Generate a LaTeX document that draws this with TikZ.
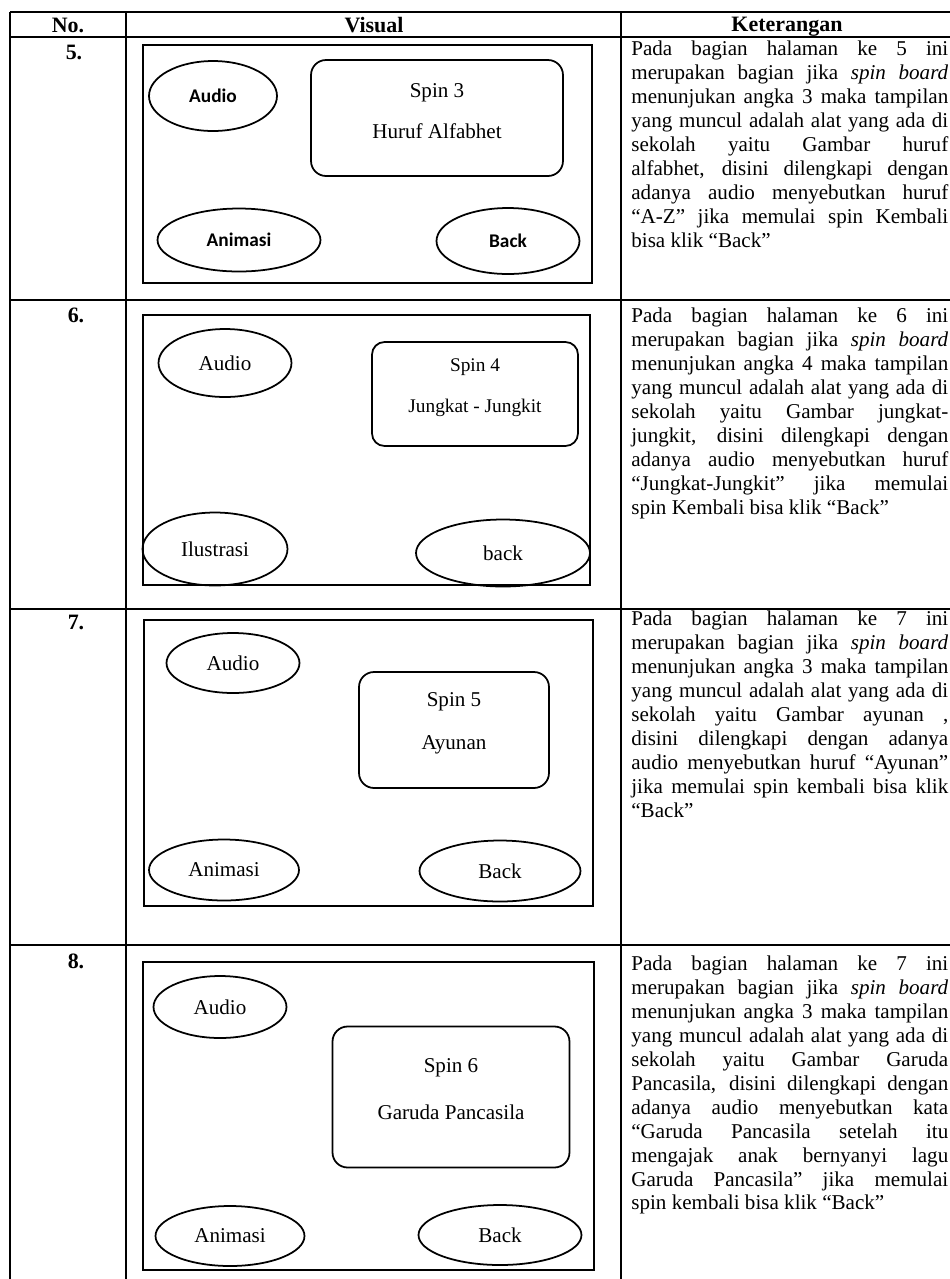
\documentclass[tikz,border=0pt]{standalone}
\usepackage{fontspec}
\setmainfont{Liberation Serif}
\newfontfamily\calfont{Carlito}
\usetikzlibrary{shapes.geometric}
\tikzset{
    btn/.style = {draw, ellipse, line width=1pt, inner sep=0,
        font=\fontsize{12}{14}\selectfont},
    sbtn/.style = {btn, font=\calfont\bfseries\fontsize{11}{14}\selectfont},
    card/.style = {draw, rectangle, rounded corners=0.3cm, line width=1pt},
    screen/.style = {draw, rectangle, line width=1pt, inner sep=0},
    rule/.style = {line width=1pt},
    lbl/.style = {inner sep=0, font=\fontsize{12}{14}\selectfont},
    head/.style = {anchor=base, inner sep=0, font=\bfseries\fontsize{12.5}{14}\selectfont},
    note/.style = {anchor=north west, inner sep=0, text width=6.34cm,
        align=justify, font=\fontsize{12}{13.6}\selectfont}
}
\begin{document}
\begin{tikzpicture}[x=0.02cm,y=-0.02cm]
    \useasboundingbox (0,0) rectangle (950,1279);
    \foreach \y in {12,37,300,609,945} \draw[rule] (10,\y) -- (950,\y);
    \foreach \x in {10,126,621} \draw[rule] (\x,12) -- (\x,1279);
    \node[head] (hno) at (68,32) {No.};
    \node[head] (hvis) at (374,32) {Visual};
    \node[head] (hket) at (787,31) {Keterangan};
    \node[head] (no5) at (74,59) {5.};
    \node[head] (no6) at (76,322) {6.};
    \node[head] (no7) at (76,629) {7.};
    \node[head] (no8) at (76,968) {8.};

    \node[screen,minimum width=8.98cm,minimum height=4.76cm] (frame5) at (367.5,164) {};
    \node[sbtn,minimum width=2.56cm,minimum height=1.4cm] (audio5) at (213,96) {Audio};
    \node[card,minimum width=5.04cm,minimum height=2.32cm] (box5) at (437,118) {};
    \node[lbl] (spin5) at (437,93) {Spin 3};
    \node[lbl] (name5) at (437,131) {Huruf Alfabhet};
    \node[sbtn,minimum width=3.26cm,minimum height=1.26cm] (anim5) at (239,240) {Animasi};
    \node[sbtn,minimum width=2.86cm,minimum height=1.32cm] (back5) at (508,241) {Back};

    \node[screen,minimum width=8.94cm,minimum height=5.4cm] (frame6) at (366.5,450) {};
    \node[btn,minimum width=2.66cm,minimum height=1.36cm] (audio6) at (225,363) {Audio};
    \node[card,rounded corners=0.25cm,minimum width=4.12cm,minimum height=2.08cm] (box6) at (475,394) {};
    \node[lbl,font=\fontsize{11}{13}\selectfont] (spin6) at (475,367) {Spin 4};
    \node[lbl,font=\fontsize{11}{13}\selectfont] (name6) at (475,408) {Jungkat - Jungkit};
    \node[btn,minimum width=2.9cm,minimum height=1.46cm] (ilus6) at (215,549) {Ilustrasi};
    \node[btn,minimum width=3.48cm,minimum height=1.34cm] (back6) at (503,553) {back};

    \node[screen,minimum width=8.98cm,minimum height=5.72cm] (frame7) at (368.5,763) {};
    \node[btn,minimum width=2.66cm,minimum height=1.2cm] (audio7) at (233,663) {Audio};
    \node[card,minimum width=3.8cm,minimum height=2.32cm] (box7) at (454,730) {};
    \node[lbl] (spin7) at (454,702) {Spin 5};
    \node[lbl] (name7) at (454,745) {Ayunan};
    \node[btn,minimum width=3cm,minimum height=1.22cm] (anim7) at (224,870) {Animasi};
    \node[btn,minimum width=3.22cm,minimum height=1.22cm] (back7) at (500,871) {Back};

    \node[screen,minimum width=9.02cm,minimum height=6.16cm] (frame8) at (368.5,1116) {};
    \node[btn,minimum width=2.66cm,minimum height=1.24cm] (audio8) at (220,1007) {Audio};
    \node[card,minimum width=4.74cm,minimum height=2.82cm] (box8) at (451,1097) {};
    \node[lbl] (spin8) at (451,1068) {Spin 6};
    \node[lbl] (name8) at (451,1112) {Garuda Pancasila};
    \node[btn,minimum width=2.98cm,minimum height=1.2cm] (anim8) at (230,1236) {Animasi};
    \node[btn,minimum width=3.26cm,minimum height=1.2cm] (back8) at (500,1235) {Back};

    \node[note] (ket5) at (631,41) {Pada bagian halaman ke 5 ini\linebreak
        merupakan bagian jika \textit{spin board}\linebreak
        menunjukan angka 3 maka tampilan\linebreak
        yang muncul adalah alat yang ada di\linebreak
        sekolah yaitu Gambar huruf\linebreak
        alfabhet, disini dilengkapi dengan\linebreak
        adanya audio menyebutkan huruf\linebreak
        “A-Z” jika memulai spin Kembali\linebreak
        bisa klik “Back”};
    \node[note] (ket6) at (631,308) {Pada bagian halaman ke 6 ini\linebreak
        merupakan bagian jika \textit{spin board}\linebreak
        menunjukan angka 4 maka tampilan\linebreak
        yang muncul adalah alat yang ada di\linebreak
        sekolah yaitu Gambar jungkat-\linebreak
        jungkit, disini dilengkapi dengan\linebreak
        adanya audio menyebutkan huruf\linebreak
        “Jungkat-Jungkit” jika memulai\linebreak
        spin Kembali bisa klik “Back”};
    \node[note] (ket7) at (631,611) {Pada bagian halaman ke 7 ini\linebreak
        merupakan bagian jika \textit{spin board}\linebreak
        menunjukan angka 3 maka tampilan\linebreak
        yang muncul adalah alat yang ada di\linebreak
        sekolah yaitu Gambar ayunan ,\linebreak
        disini dilengkapi dengan adanya\linebreak
        audio menyebutkan huruf “Ayunan”\linebreak
        jika memulai spin kembali bisa klik\linebreak
        “Back”};
    \node[note] (ket8) at (631,956) {Pada bagian halaman ke 7 ini\linebreak
        merupakan bagian jika \textit{spin board}\linebreak
        menunjukan angka 3 maka tampilan\linebreak
        yang muncul adalah alat yang ada di\linebreak
        sekolah yaitu Gambar Garuda\linebreak
        Pancasila, disini dilengkapi dengan\linebreak
        adanya audio menyebutkan kata\linebreak
        “Garuda Pancasila setelah itu\linebreak
        mengajak anak bernyanyi lagu\linebreak
        Garuda Pancasila” jika memulai\linebreak
        spin kembali bisa klik “Back”};
\end{tikzpicture}
\end{document}
